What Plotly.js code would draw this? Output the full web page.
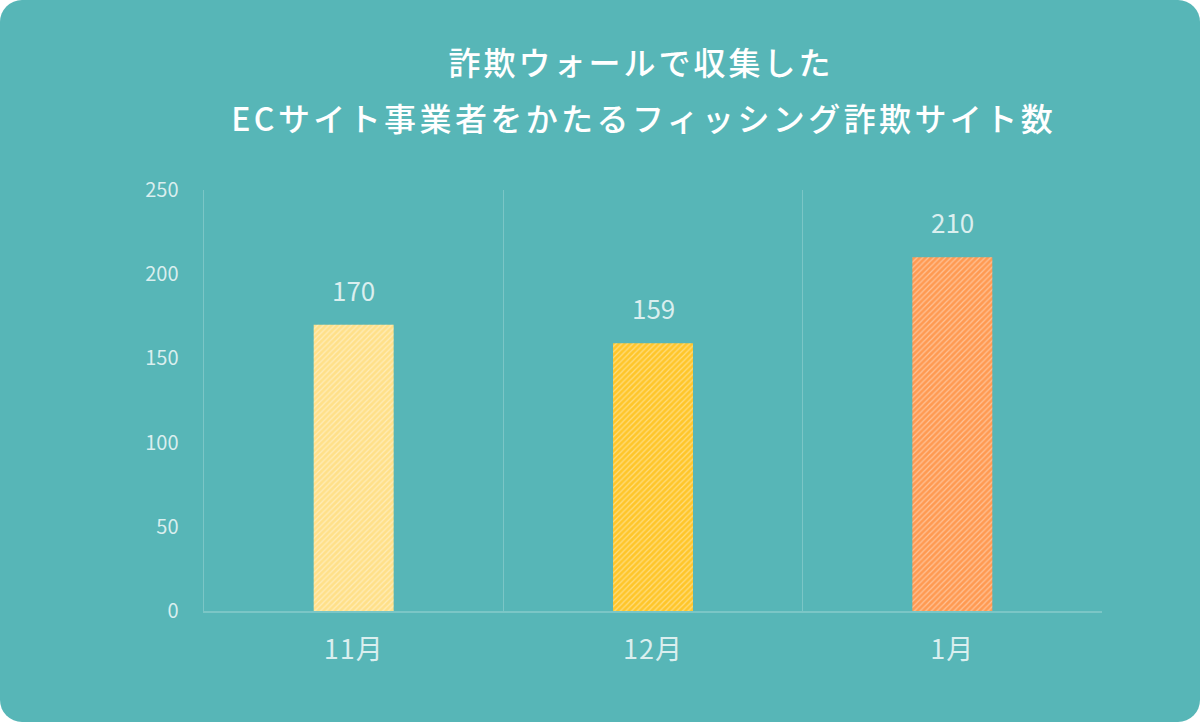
<!DOCTYPE html>
<html>
<head>
<meta charset="utf-8">
<script src="https://cdn.plot.ly/plotly-3.0.1.min.js"></script>
<style>
  html, body { margin: 0; padding: 0; background: #ffffff; }
  #chart {
    width: 1200px;
    height: 722px;
    border-radius: 22px;
    overflow: hidden;
  }
  #chart .gtitle { letter-spacing: 3px; }
  #chart .annotation-text.title2 { letter-spacing: 3.4px; }
  #chart .xtick text { letter-spacing: 1px; }
</style>
</head>
<body>
<div id="chart"></div>
<script>
// データ
const months = ["11月", "12月", "1月"];
const siteCounts = [170, 159, 210];
const barColors = ["#FFE089", "#FFC62A", "#FF9A52"];
const yTicks = [0, 50, 100, 150, 200, 250];
const titleLine1 = "詐欺ウォールで収集した";
const titleLine2 = "ECサイト事業者をかたるフィッシング詐欺サイト数";

const bg = "#57B6B7";
const faint = "rgba(255,255,255,0.22)";
const labelColor = "rgba(255,255,255,0.78)";
const jpFont = "Noto Sans CJK JP, Noto Sans, sans-serif";

// 塗りの棒
const bars = {
  x: months,
  y: siteCounts,
  type: "bar",
  width: 0.267,
  marker: { color: barColors, line: { width: 0 } },
  hoverinfo: "none",
};

// 斜線だけの棒（上に重ねる）
const hatch = {
  x: months,
  y: siteCounts,
  type: "bar",
  width: 0.267,
  marker: {
    color: "rgba(0,0,0,0)",
    line: { width: 0 },
    pattern: {
      shape: "/",
      fillmode: "replace",
      fgcolor: "rgba(255,255,255,0.4)",
      size: 4,
      solidity: 0.3,
    },
  },
  hoverinfo: "none",
};

// 数値ラベル
const valueLabels = months.map(function (m, i) {
  return {
    x: m,
    y: siteCounts[i],
    text: String(siteCounts[i]),
    showarrow: false,
    yanchor: "bottom",
    yshift: 15,
    font: { family: jpFont, size: 26, color: labelColor },
  };
});

const layout = {
  width: 1200,
  height: 722,
  paper_bgcolor: bg,
  plot_bgcolor: bg,
  margin: { l: 204, r: 98, t: 190, b: 111 },
  showlegend: false,
  barmode: "overlay",
  title: {
    text: titleLine1,
    x: 641 / 1200,
    xanchor: "center",
    y: 1 - 64 / 722,
    yanchor: "middle",
    font: { family: jpFont, size: 32, color: "#ffffff", weight: 500 },
  },
  xaxis: {
    type: "category",
    range: [-0.5, 2.5],
    tickson: "boundaries",
    showgrid: true,
    gridcolor: faint,
    gridwidth: 1.5,
    showline: true,
    linecolor: faint,
    linewidth: 1.5,
    ticks: "",
    ticklabelstandoff: 14,
    tickfont: { family: jpFont, size: 27, color: labelColor },
  },
  yaxis: {
    range: [0, 250],
    tickvals: yTicks,
    showgrid: false,
    zeroline: false,
    showline: true,
    linecolor: faint,
    linewidth: 1.5,
    ticks: "",
    ticklabelstandoff: 20,
    tickfont: { family: jpFont, size: 20, color: labelColor },
    fixedrange: true,
  },
  annotations: valueLabels.concat([
    {
      xref: "paper",
      yref: "paper",
      x: (643 - 204) / 898,
      y: (611 - 117) / 421,
      xanchor: "center",
      yanchor: "middle",
      text: titleLine2,
      showarrow: false,
      captureevents: false,
      font: { family: jpFont, size: 32, color: "#ffffff", weight: 500 },
    },
  ]),
};

Plotly.newPlot("chart", [bars, hatch], layout, { displayModeBar: false, staticPlot: true }).then(function () {
  const ann = document.querySelectorAll("#chart .annotation-text");
  if (ann.length) ann[ann.length - 1].classList.add("title2");
});
</script>
</body>
</html>
